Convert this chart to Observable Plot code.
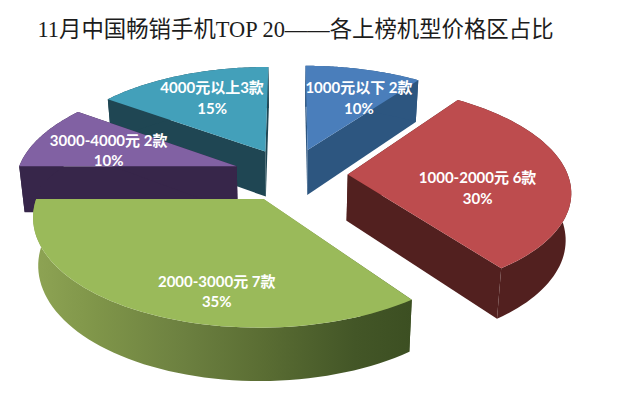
<!DOCTYPE html>
<html><head><meta charset="utf-8">
<script src="https://cdn.jsdelivr.net/npm/d3@7"></script>
<script src="https://cdn.jsdelivr.net/npm/@observablehq/plot@0.6"></script>
<style>html,body{margin:0;padding:0;background:#fff}</style>
</head><body><div id="chart"></div>
<script>
const chartTitle = "11月中国畅销手机TOP 20——各上榜机型价格区占比";
const ranges = ["1000元以下 2款", "1000-2000元 6款", "2000-3000元 7款", "3000-4000元 2款", "4000元以上3款"];
const shares = [10, 30, 35, 10, 15];
const topColors = ["#4a7ebb", "#bd4c4e", "#9aba5a", "#8161a3", "#43a0ba"];
const wallColors = ["#2d5680", "#52201f", "url(#greenWall)", "#37264a", "#1f4653"];

// Perspective model of the exploded pie
const cx = 290, cy = 174, A = 220, B = 102.6, p = 0.142, explode = 0.26;
const rad = d => d * Math.PI / 180;
function project(u, v) {
  const w = 1 + p * v;
  return {x: cx + A * u / w, y: cy - B * v / w};
}
function lower(q) { // same point on the base of the pie
  return {x: cx + (q.x - cx) * 0.98, y: q.y + 38 + 0.047 * q.y};
}
let acc = 0;
const slices = shares.map((s, i) => {
  const a0 = acc * 3.6, a1 = (acc + s) * 3.6; acc += s;
  const mid = (a0 + a1) / 2;
  return {i, a0, a1, ex: explode * Math.sin(rad(mid)), ey: explode * Math.cos(rad(mid))};
});
const at = (sl, a, r) => project(sl.ex + r * Math.sin(rad(a)), sl.ey + r * Math.cos(rad(a)));
const arc = sl => d3.range(0, 61).map(k => at(sl, sl.a0 + (sl.a1 - sl.a0) * k / 60, 1));

const paintOrder = [4, 0, 3, 1, 2];
const polygons = [];
for (const i of paintOrder) {
  const sl = slices[i], rim = arc(sl), apex = project(sl.ex, sl.ey);
  const first = rim[0], last = rim[rim.length - 1];
  polygons.push({fill: wallColors[i], pts: [apex, first, lower(first), lower(apex)]});
  polygons.push({fill: wallColors[i], pts: [apex, last, lower(last), lower(apex)]});
  polygons.push({fill: wallColors[i], pts: [...rim, ...rim.map(lower).reverse()]});
  polygons.push({fill: topColors[i], pts: [apex, ...rim]});
}

// Label anchors on each slice: angle and radius within the pie plane
const labelAngle = [24, 101.5, 193, 286, 335.4];
const labelRadius = [0.66, 0.588, 0.76, 0.634, 0.675];
const labels = slices.map((sl, i) => ({
  ...at(sl, labelAngle[i], labelRadius[i]),
  text: `${ranges[i]}\n${shares[i]}%`
}));

const gradient = () => {
  const svg = d3.create("svg:defs");
  const g = svg.append("linearGradient").attr("id", "greenWall");
  [[0, "#8ea454"], [0.17, "#7f9549"], [0.4, "#6c8040"], [0.61, "#5a6d33"], [0.85, "#435627"], [1, "#3c4f22"]]
    .forEach(([o, c]) => g.append("stop").attr("offset", o).attr("stop-color", c));
  return svg.node();
};

const chart = Plot.plot({
  width: 620, height: 393,
  margin: 0,
  style: {background: "#fff", overflow: "hidden"},
  x: {domain: [0, 620], range: [0, 620], axis: null},
  y: {domain: [0, 393], range: [0, 393], axis: null},
  marks: [
    gradient,
    ...polygons.map(g => Plot.line(g.pts, {x: "x", y: "y", fill: g.fill, stroke: "none", curve: "linear"})),
    Plot.text(labels, {x: "x", y: "y", text: "text", fill: "#fff", fontSize: 15, fontWeight: 700,
      lineHeight: 1.38, textAnchor: "middle", fontFamily: "Lato, 'Noto Sans CJK SC', sans-serif"}),
    Plot.text([chartTitle], {x: () => 37, y: () => 29, text: d => d, textAnchor: "start", fill: "#1c1c1c",
      fontSize: 22.4, fontFamily: "'Liberation Serif', 'Noto Sans CJK SC', serif"})
  ]
});
document.getElementById("chart").append(chart);
</script></body></html>
